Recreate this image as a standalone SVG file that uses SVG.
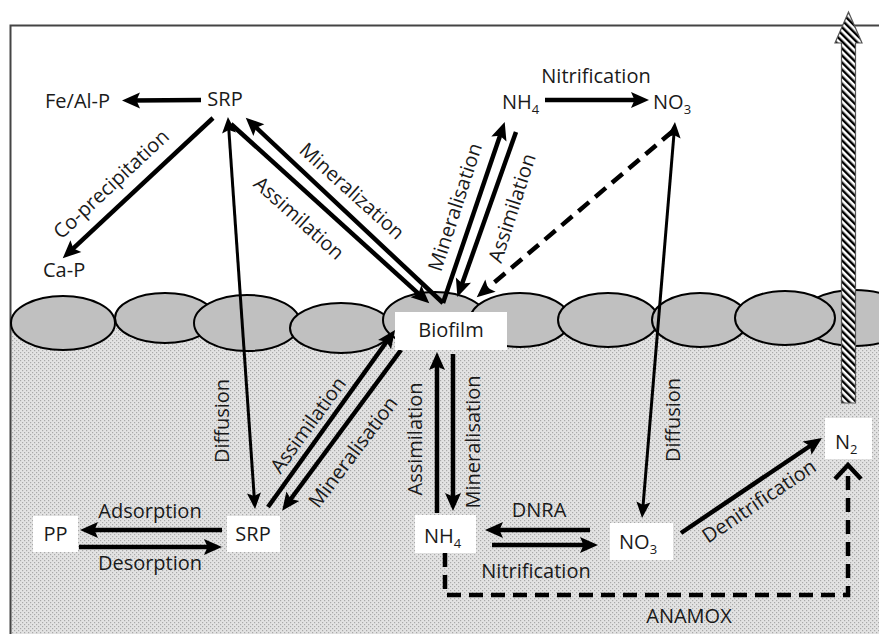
<svg xmlns="http://www.w3.org/2000/svg" width="879" height="634" viewBox="0 0 879 634" style="background:#ffffff">
  <style>
    text { font-family: "Open Sans", "Liberation Sans", sans-serif; font-size: 20px; fill: #1a1a1a; }
    .lbl { text-anchor: middle; }
    .rl { text-anchor: middle; }
    .bg { fill: #ffffff; }
    .grain { fill: #c0c0c0; stroke: #000; stroke-width: 2; }
    .box { fill: #ffffff; stroke: none; }
    .thick { stroke: #000; stroke-width: 4.5; fill: none; marker-end: url(#ah); }
    .thin { stroke: #000; stroke-width: 3; fill: none; marker-start: url(#ahs); marker-end: url(#ahs); }
    .dash { stroke: #000; stroke-width: 4.5; fill: none; stroke-dasharray: 14 8; }
  </style>
  <defs>
    <pattern id="sed" patternUnits="userSpaceOnUse" width="4" height="4">
      <rect width="4" height="4" fill="#e3e3e3"/>
      <rect x="0" y="0" width="1.2" height="1.2" fill="#a9a9a9"/>
      <rect x="2" y="2" width="1.2" height="1.2" fill="#a9a9a9"/>
    </pattern>
    <pattern id="hatch" patternUnits="userSpaceOnUse" width="5" height="5" patternTransform="rotate(-45)">
      <rect width="5" height="5" fill="#fff"/>
      <rect width="2.4" height="5" fill="#000"/>
    </pattern>
    <marker id="ah" markerUnits="userSpaceOnUse" viewBox="-19 -10 21 20" refX="-9" refY="0" markerWidth="21" markerHeight="20" orient="auto-start-reverse">
      <path d="M-18,-8 L0,0 L-18,8 L-14.5,0 Z" fill="#000"/>
    </marker>
    <marker id="ahs" markerUnits="userSpaceOnUse" viewBox="-17 -9 19 18" refX="-8" refY="0" markerWidth="19" markerHeight="18" orient="auto-start-reverse">
      <path d="M-16,-7 L0,0 L-16,7 L-13,0 Z" fill="#000"/>
    </marker>
    <marker id="chev" markerUnits="userSpaceOnUse" viewBox="-18 -16 22 32" refX="0" refY="0" markerWidth="22" markerHeight="32" orient="auto">
      <path d="M-14,-13 L0,0 L-14,13" fill="none" stroke="#000" stroke-width="4.5" stroke-linejoin="miter"/>
    </marker>
  </defs>

  <!-- background -->
  <rect class="bg" x="0" y="0" width="879" height="634"/>
  <rect x="10" y="325" width="869" height="309" fill="url(#sed)"/>
  <path d="M10.5,634 V25.5 H879" fill="none" stroke="#444" stroke-width="2"/>

  <!-- sediment grains -->
  <g id="grains">
    <ellipse class="grain" cx="63" cy="323" rx="52" ry="27"/>
    <ellipse class="grain" cx="165" cy="318" rx="50" ry="25"/>
    <ellipse class="grain" cx="247" cy="323" rx="53" ry="28"/>
    <ellipse class="grain" cx="341" cy="328" rx="51" ry="25"/>
    <ellipse class="grain" cx="435" cy="320" rx="52" ry="28"/>
    <ellipse class="grain" cx="520" cy="320" rx="50" ry="27"/>
    <ellipse class="grain" cx="608" cy="320" rx="50" ry="27"/>
    <ellipse class="grain" cx="700" cy="320" rx="48" ry="27"/>
    <ellipse class="grain" cx="855" cy="318" rx="55" ry="28"/>
    <ellipse class="grain" cx="785" cy="318" rx="50" ry="27"/>
  </g>

  <!-- connectors -->
  <g id="connectors">
    <!-- top -->
    <line class="thick" x1="201" y1="100" x2="131" y2="100.5"/>
    <line class="thick" x1="213" y1="118" x2="69.3" y2="252.2"/>
    <line class="thin" x1="228.5" y1="125" x2="254.5" y2="501"/>
    <line class="thick" x1="231" y1="124" x2="422.6" y2="297.3"/>
    <line class="thick" x1="443" y1="303" x2="252.3" y2="123.9"/>
    <line class="thick" x1="443" y1="303" x2="501.8" y2="130.5"/>
    <line class="thick" x1="516" y1="132" x2="460.4" y2="288.6"/>
    <line class="dash" x1="673" y1="131" x2="483.6" y2="291.5" marker-end="url(#ah)"/>
    <line class="thick" x1="545" y1="100" x2="640" y2="100"/>
    <line class="thin" x1="674.3" y1="130" x2="642.7" y2="510"/>
    <!-- bottom -->
    <line class="thick" x1="222" y1="530" x2="89" y2="530"/>
    <line class="thick" x1="79" y1="547" x2="213" y2="547"/>
    <line class="thick" x1="268" y1="507" x2="389.8" y2="337.3"/>
    <line class="thick" x1="401" y1="350" x2="287.5" y2="503.5"/>
    <line class="thick" x1="437" y1="513" x2="437" y2="361"/>
    <line class="thick" x1="453" y1="354" x2="453" y2="502"/>
    <line class="thick" x1="590" y1="530" x2="494" y2="530"/>
    <line class="thick" x1="492" y1="545" x2="589" y2="545"/>
    <line class="thick" x1="681" y1="533" x2="814.5" y2="443"/>
    <path class="dash" d="M445,553 V595 H848 V465" marker-end="url(#chev)"/>
  </g>

  <!-- N2 efflux arrow -->
  <g id="efflux">
    <path d="M841.5,403 V43 H835 L848.5,12 L862,43 H855.5 V403 Z" fill="url(#hatch)" stroke="#555" stroke-width="1.2"/>
  </g>

  <!-- labels -->
  <g id="labels">
    <text class="lbl" x="596" y="83">Nitrification</text>
    <text class="rl" transform="translate(111,184) rotate(-43)" dy="0.35em">Co-precipitation</text>
    <text class="rl" transform="translate(352,191) rotate(42)" dy="0.35em">Mineralization</text>
    <text class="rl" transform="translate(299,218) rotate(42)" dy="0.35em">Assimilation</text>
    <text class="rl" transform="translate(455,207) rotate(-72)" dy="0.35em">Mineralisation</text>
    <text class="rl" transform="translate(512,208) rotate(-72)" dy="0.35em">Assimilation</text>
    <text class="rl" transform="translate(222,421) rotate(-90)" dy="0.35em">Diffusion</text>
    <text class="rl" transform="translate(308,425) rotate(-54)" dy="0.35em">Assimilation</text>
    <text class="rl" transform="translate(353,452) rotate(-53)" dy="0.35em">Mineralisation</text>
    <text class="rl" transform="translate(415,439) rotate(-90)" dy="0.35em">Assimilation</text>
    <text class="rl" transform="translate(473,442) rotate(-90)" dy="0.35em">Mineralisation</text>
    <text class="rl" transform="translate(673,420) rotate(-90)" dy="0.35em">Diffusion</text>
    <text class="rl" transform="translate(759,501) rotate(-34)" dy="0.35em">Denitrification</text>
    <text class="lbl" x="150" y="518">Adsorption</text>
    <text class="lbl" x="150" y="570">Desorption</text>
    <text class="lbl" x="539" y="517">DNRA</text>
    <text class="lbl" x="536" y="578">Nitrification</text>
    <text class="lbl" x="689" y="623">ANAMOX</text>
  </g>

  <!-- nodes -->
  <g id="node-feal-p"><text x="45" y="108">Fe/Al-P</text></g>
  <g id="node-srp-top"><text class="lbl" x="225" y="106">SRP</text></g>
  <g id="node-ca-p"><text x="43" y="277">Ca-P</text></g>
  <g id="node-nh4-top"><text x="502" y="109">NH<tspan font-size="13" dy="5">4</tspan></text></g>
  <g id="node-no3-top"><text x="653" y="109">NO<tspan font-size="13" dy="5">3</tspan></text></g>
  <g id="node-biofilm"><rect class="box" x="395" y="312" width="112" height="38"/><text class="lbl" x="451" y="337">Biofilm</text></g>
  <g id="node-pp"><rect class="box" x="33" y="516" width="45" height="36"/><text class="lbl" x="55.5" y="541">PP</text></g>
  <g id="node-srp-bottom"><rect class="box" x="227" y="516" width="53" height="36"/><text class="lbl" x="253" y="541">SRP</text></g>
  <g id="node-nh4-bottom"><rect class="box" x="415" y="515" width="61" height="38"/><text x="424" y="543">NH<tspan font-size="13" dy="5">4</tspan></text></g>
  <g id="node-no3-bottom"><rect class="box" x="610" y="523" width="63" height="37"/><text x="619" y="549">NO<tspan font-size="13" dy="5">3</tspan></text></g>
  <g id="node-n2"><rect class="box" x="825" y="418" width="47" height="41"/><text x="835" y="449">N<tspan font-size="13" dy="5">2</tspan></text></g>
</svg>
